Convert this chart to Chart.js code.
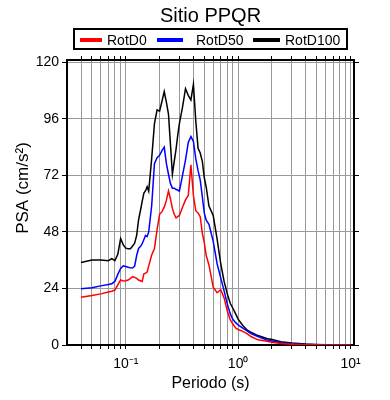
<!DOCTYPE html>
<html>
<head>
<meta charset="utf-8">
<script src="https://cdn.jsdelivr.net/npm/chart.js@4.4.0/dist/chart.umd.min.js"></script>
<style>
  html, body { margin: 0; padding: 0; background: #fff; }
</style>
</head>
<body>
<canvas id="psaChart" width="390" height="400"></canvas>
<script>
// Periods (s)
const periods = [0.04, 0.05, 0.06, 0.07, 0.075, 0.08, 0.085, 0.09, 0.095, 0.1,
  0.105, 0.11, 0.115, 0.12, 0.125, 0.13, 0.135, 0.14, 0.145, 0.15,
  0.155, 0.16, 0.17, 0.18, 0.19, 0.2, 0.21, 0.22, 0.23, 0.24,
  0.25, 0.26, 0.27, 0.28, 0.29, 0.3, 0.32, 0.34, 0.36, 0.38,
  0.4, 0.42, 0.44, 0.46, 0.48, 0.5, 0.52, 0.55, 0.6, 0.65,
  0.7, 0.75, 0.8, 0.85, 0.9, 0.95, 1.0, 1.1, 1.2, 1.3,
  1.5, 1.8, 2.0, 2.4, 3.0, 4.0, 5.0, 6.0, 8.0, 10.0];

// PSA (cm/s2) per component
const rotD0 = [20.3, 21.0, 21.7, 22.5, 22.8, 23.3, 25.5, 27.6, 27.2, 27.3,
  27.6, 28.3, 29.0, 28.7, 28.3, 27.6, 27.3, 27.0, 30.2, 30.5,
  31.0, 33.5, 38.2, 41.0, 49.0, 55.5, 56.6, 58.5, 61.5, 65.4,
  62.0, 58.0, 55.5, 54.0, 54.5, 55.0, 58.5, 61.6, 63.5, 76.5,
  63.5, 57.0, 56.0, 54.5, 47.5, 43.5, 38.0, 34.0, 24.5, 22.2,
  23.5, 20.0, 14.5, 10.8, 8.8, 7.2, 6.6, 5.8, 4.8, 3.6,
  2.2, 1.6, 1.2, 0.6, 0.35, 0.15, 0.1, 0.05, 0.03, 0.02];

const rotD50 = [23.9, 24.3, 25.1, 25.7, 26.0, 27.0, 30.0, 32.5, 33.6, 33.3,
  33.0, 32.8, 32.7, 33.5, 38.0, 41.0, 41.8, 43.0, 44.8, 46.5,
  46.0, 48.0, 59.0, 77.0, 79.5, 80.5, 82.5, 84.0, 77.0, 72.5,
  68.5, 66.6, 66.6, 66.0, 65.8, 65.3, 72.0, 78.5, 86.0, 88.5,
  86.4, 79.0, 74.0, 70.0, 63.0, 56.0, 53.0, 51.2, 44.0, 34.5,
  28.5, 23.0, 17.5, 13.3, 10.8, 9.5, 8.5, 7.2, 6.0, 4.8,
  3.6, 2.1, 1.7, 1.0, 0.5, 0.25, 0.15, 0.1, 0.05, 0.03];

const rotD100 = [35.0, 36.1, 36.1, 35.8, 36.7, 35.8, 38.5, 45.2, 42.5, 41.1,
  40.9, 40.9, 42.0, 43.2, 46.5, 53.1, 57.0, 61.0, 64.5, 65.5,
  67.2, 65.3, 79.0, 94.0, 99.8, 99.3, 103.5, 107.6, 103.0, 98.0,
  85.0, 72.5, 78.0, 83.0, 89.0, 94.0, 101.0, 108.8, 106.0, 104.0,
  110.7, 95.0, 83.5, 81.5, 78.0, 71.0, 67.0, 59.0, 55.0, 45.0,
  34.5, 27.0, 21.8, 17.7, 15.5, 13.2, 11.0, 8.3, 6.4, 5.4,
  4.0, 2.8, 2.3, 1.4, 0.9, 0.45, 0.25, 0.15, 0.08, 0.05];

const seriesLabels = ['RotD0', 'RotD50', 'RotD100'];
const seriesColors = ['#ff0000', '#0000ff', '#000000'];

// Axis ticks
const yTicks = [0, 24, 48, 72, 96, 120];
const xTicks = [0.04, 0.05, 0.06, 0.07, 0.08, 0.09, 0.1, 0.2, 0.3, 0.4, 0.5, 0.6, 0.7, 0.8, 0.9,
  1, 2, 3, 4, 5, 6, 7, 8, 9, 10];
const decadeLabels = { '0.1': '10⁻¹', '1': '10⁰', '10': '10¹' };

const FONT = '"Liberation Sans", Arial, Helvetica, sans-serif';
Chart.defaults.font.family = FONT;
Chart.defaults.color = '#000';

// Title, framed legend and y title drawn on top
const decorPlugin = {
    id: 'decor',
    afterDraw(chart) {
        const ctx = chart.ctx;
        const area = chart.chartArea;
        ctx.save();
        ctx.fillStyle = '#000';

        // Title
        ctx.font = '20px ' + FONT;
        ctx.textAlign = 'center';
        ctx.textBaseline = 'alphabetic';
        ctx.fillText('Sitio PPQR', (area.left + area.right) / 2, 22);

        // Legend box
        ctx.strokeStyle = '#000';
        ctx.lineWidth = 2;
        ctx.strokeRect(74, 29, 273, 20);
        const swatchX = [80, 157, 253];
        const swatchW = [22, 26, 27];
        const textX = [107, 196, 285];
        ctx.font = '14px ' + FONT;
        ctx.textAlign = 'left';
        chart.data.datasets.forEach((ds, i) => {
            ctx.strokeStyle = ds.borderColor;
            ctx.lineWidth = 4;
            ctx.beginPath();
            ctx.moveTo(swatchX[i], 40);
            ctx.lineTo(swatchX[i] + swatchW[i], 40);
            ctx.stroke();
            ctx.fillText(ds.label, textX[i], 45);
        });

        // Y axis title
        ctx.translate(23, 188);
        ctx.rotate(-Math.PI / 2);
        ctx.font = '17px ' + FONT;
        ctx.textAlign = 'center';
        ctx.textBaseline = 'middle';
        ctx.fillText('PSA (cm/s²)', 0, 0);
        ctx.restore();
    }
};

function setXTicks(scale) {
    scale.ticks = xTicks.map(v => ({ value: v }));
}
function setYTicks(scale) {
    scale.ticks = yTicks.map(v => ({ value: v }));
}

const frame = { color: '#000', width: 2 };

new Chart(document.getElementById('psaChart').getContext('2d'), {
    type: 'line',
    data: {
        labels: periods,
        datasets: [rotD0, rotD50, rotD100].map((vals, i) => ({
            label: seriesLabels[i],
            data: vals,
            borderColor: seriesColors[i],
            backgroundColor: seriesColors[i],
            borderWidth: 1.5,
            pointRadius: 0,
            tension: 0,
            fill: false
        }))
    },
    options: {
        responsive: false,
        animation: false,
        devicePixelRatio: 1,
        layout: { padding: 0 },
        plugins: {
            legend: { display: false },
            title: { display: false },
            tooltip: { enabled: false }
        },
        scales: {
            x: {
                type: 'logarithmic',
                position: 'bottom',
                min: 0.03,
                max: 10.74,
                afterBuildTicks: setXTicks,
                afterFit: s => { s.height = 55; },
                ticks: {
                    autoSkip: false,
                    maxRotation: 0,
                    padding: 7,
                    font: { size: 14 },
                    callback: v => decadeLabels[String(v)] || ''
                },
                grid: { color: '#999', lineWidth: 1, tickColor: '#000', tickLength: 4 },
                border: frame,
                title: {
                    display: true,
                    text: 'Periodo (s)',
                    font: { size: 16 },
                    padding: { top: 0, bottom: 7 }
                }
            },
            xTop: {
                type: 'logarithmic',
                position: 'top',
                min: 0.03,
                max: 10.74,
                afterBuildTicks: setXTicks,
                afterFit: s => { s.height = 60; },
                ticks: { display: false },
                grid: { drawOnChartArea: false, tickColor: '#000', tickLength: 4 },
                border: frame
            },
            y: {
                type: 'linear',
                position: 'left',
                min: 0,
                max: 121,
                afterBuildTicks: setYTicks,
                afterFit: s => { s.width = 67; },
                ticks: { padding: 3, font: { size: 14 } },
                grid: { color: '#999', lineWidth: 1, tickColor: '#000', tickLength: 5 },
                border: frame
            },
            yRight: {
                type: 'linear',
                position: 'right',
                min: 0,
                max: 121,
                afterBuildTicks: setYTicks,
                afterFit: s => { s.width = 36; },
                ticks: { display: false },
                grid: { drawOnChartArea: false, tickColor: '#000', tickLength: 5 },
                border: frame
            }
        }
    },
    plugins: [decorPlugin]
});
</script>
</body>
</html>
